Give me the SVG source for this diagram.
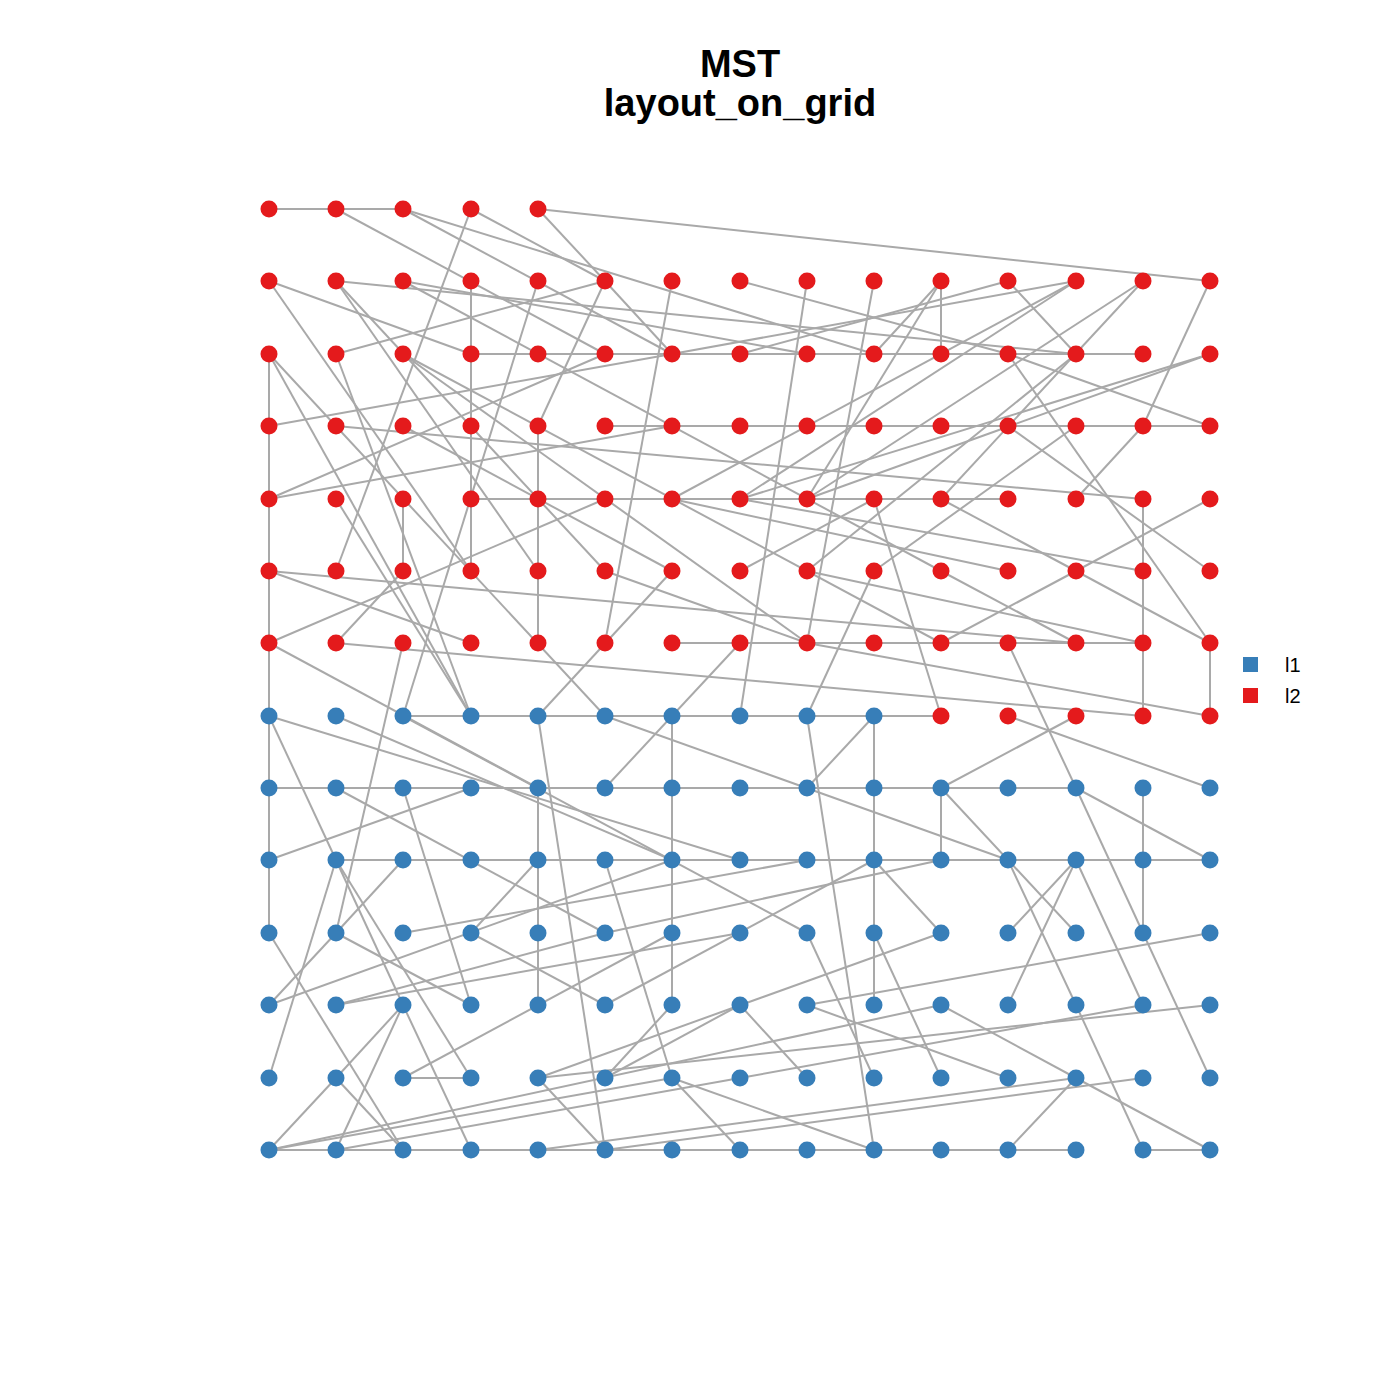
<svg xmlns="http://www.w3.org/2000/svg" width="1400" height="1400" viewBox="0 0 1400 1400">
<style>
.e line{stroke:#A9A9A9;stroke-width:2}
.r{fill:#E41A1C}
.b{fill:#377EB8}
.t{font-family:"Liberation Sans",Arial,sans-serif;font-weight:bold;font-size:38px;text-anchor:middle}
.l{font-family:"Liberation Sans",Arial,sans-serif;font-size:20px}
</style>
<rect width="1400" height="1400" fill="#fff"/>
<text class="t" x="740" y="77">MST</text>
<text class="t" x="740" y="116">layout_on_grid</text>
<g id="connectors" class="e">
<line x1="269" y1="209" x2="403" y2="209"/>
<line x1="471" y1="354" x2="1143" y2="354"/>
<line x1="605" y1="426" x2="1210" y2="426"/>
<line x1="471" y1="499" x2="1008" y2="499"/>
<line x1="672" y1="643" x2="1143" y2="643"/>
<line x1="403" y1="716" x2="941" y2="716"/>
<line x1="269" y1="788" x2="1076" y2="788"/>
<line x1="336" y1="860" x2="1210" y2="860"/>
<line x1="269" y1="1150" x2="1076" y2="1150"/>
<line x1="1143" y1="1150" x2="1210" y2="1150"/>
<line x1="269" y1="354" x2="269" y2="933"/>
<line x1="403" y1="499" x2="403" y2="571"/>
<line x1="471" y1="281" x2="471" y2="571"/>
<line x1="538" y1="426" x2="538" y2="643"/>
<line x1="538" y1="788" x2="538" y2="1005"/>
<line x1="672" y1="716" x2="672" y2="1005"/>
<line x1="874" y1="716" x2="874" y2="1005"/>
<line x1="941" y1="281" x2="941" y2="354"/>
<line x1="941" y1="788" x2="941" y2="860"/>
<line x1="1143" y1="499" x2="1143" y2="716"/>
<line x1="1143" y1="788" x2="1143" y2="933"/>
<line x1="1210" y1="643" x2="1210" y2="716"/>
<line x1="471" y1="209" x2="336" y2="571"/>
<line x1="538" y1="209" x2="605" y2="281"/>
<line x1="471" y1="209" x2="605" y2="281"/>
<line x1="538" y1="209" x2="1210" y2="281"/>
<line x1="336" y1="209" x2="605" y2="354"/>
<line x1="403" y1="209" x2="672" y2="354"/>
<line x1="403" y1="209" x2="874" y2="354"/>
<line x1="269" y1="281" x2="471" y2="354"/>
<line x1="269" y1="281" x2="471" y2="571"/>
<line x1="336" y1="354" x2="605" y2="281"/>
<line x1="269" y1="571" x2="1076" y2="643"/>
<line x1="269" y1="426" x2="672" y2="354"/>
<line x1="336" y1="426" x2="1143" y2="499"/>
<line x1="538" y1="716" x2="605" y2="1150"/>
<line x1="1076" y1="499" x2="1143" y2="426"/>
<line x1="1008" y1="281" x2="1076" y2="354"/>
<line x1="1210" y1="281" x2="1143" y2="426"/>
<line x1="1008" y1="354" x2="1210" y2="426"/>
<line x1="1008" y1="354" x2="1210" y2="643"/>
<line x1="1210" y1="499" x2="1076" y2="571"/>
<line x1="1076" y1="571" x2="1210" y2="643"/>
<line x1="1008" y1="643" x2="1076" y2="788"/>
<line x1="1008" y1="716" x2="1210" y2="788"/>
<line x1="1076" y1="788" x2="1210" y2="860"/>
<line x1="1076" y1="788" x2="1143" y2="933"/>
<line x1="1008" y1="860" x2="1076" y2="1005"/>
<line x1="1076" y1="860" x2="1008" y2="933"/>
<line x1="1076" y1="860" x2="1008" y2="1005"/>
<line x1="1076" y1="860" x2="1143" y2="1005"/>
<line x1="1143" y1="933" x2="1210" y2="1078"/>
<line x1="1076" y1="1005" x2="1143" y2="1150"/>
<line x1="1076" y1="1078" x2="1008" y2="1150"/>
<line x1="1076" y1="1078" x2="1210" y2="1150"/>
<line x1="538" y1="1150" x2="1076" y2="1078"/>
<line x1="807" y1="933" x2="874" y2="1078"/>
<line x1="874" y1="933" x2="941" y2="1078"/>
<line x1="807" y1="716" x2="874" y2="1150"/>
<line x1="605" y1="860" x2="672" y2="1078"/>
<line x1="538" y1="1078" x2="605" y2="1150"/>
<line x1="672" y1="1078" x2="740" y2="1150"/>
<line x1="269" y1="860" x2="471" y2="788"/>
<line x1="269" y1="933" x2="403" y2="1150"/>
<line x1="336" y1="860" x2="269" y2="1078"/>
<line x1="336" y1="860" x2="403" y2="1005"/>
<line x1="336" y1="860" x2="471" y2="1078"/>
<line x1="269" y1="1005" x2="336" y2="933"/>
<line x1="403" y1="1005" x2="336" y2="1078"/>
<line x1="403" y1="1005" x2="336" y2="1150"/>
<line x1="403" y1="1005" x2="471" y2="1150"/>
<line x1="336" y1="1078" x2="269" y2="1150"/>
<line x1="403" y1="860" x2="336" y2="933"/>
<line x1="269" y1="571" x2="471" y2="643"/>
<line x1="336" y1="643" x2="403" y2="571"/>
<line x1="336" y1="643" x2="1143" y2="716"/>
<line x1="403" y1="643" x2="336" y2="933"/>
<line x1="269" y1="716" x2="336" y2="860"/>
<line x1="336" y1="354" x2="471" y2="716"/>
<line x1="403" y1="788" x2="471" y2="1005"/>
<line x1="672" y1="281" x2="605" y2="643"/>
<line x1="672" y1="571" x2="538" y2="716"/>
<line x1="605" y1="788" x2="740" y2="643"/>
<line x1="874" y1="281" x2="807" y2="643"/>
<line x1="672" y1="354" x2="1076" y2="281"/>
<line x1="740" y1="354" x2="1008" y2="281"/>
<line x1="941" y1="281" x2="807" y2="499"/>
<line x1="941" y1="281" x2="874" y2="354"/>
<line x1="471" y1="933" x2="538" y2="860"/>
<line x1="336" y1="1078" x2="403" y2="1150"/>
<line x1="269" y1="716" x2="740" y2="860"/>
<line x1="336" y1="281" x2="1076" y2="354"/>
<line x1="336" y1="281" x2="538" y2="571"/>
<line x1="336" y1="281" x2="605" y2="571"/>
<line x1="403" y1="281" x2="807" y2="354"/>
<line x1="403" y1="281" x2="941" y2="571"/>
<line x1="538" y1="281" x2="403" y2="716"/>
<line x1="605" y1="281" x2="538" y2="426"/>
<line x1="605" y1="281" x2="672" y2="354"/>
<line x1="740" y1="281" x2="1008" y2="354"/>
<line x1="807" y1="281" x2="740" y2="716"/>
<line x1="1076" y1="281" x2="740" y2="499"/>
<line x1="1076" y1="281" x2="672" y2="499"/>
<line x1="1143" y1="281" x2="807" y2="499"/>
<line x1="1143" y1="281" x2="941" y2="499"/>
<line x1="269" y1="354" x2="471" y2="716"/>
<line x1="269" y1="354" x2="605" y2="716"/>
<line x1="403" y1="354" x2="941" y2="643"/>
<line x1="403" y1="354" x2="807" y2="643"/>
<line x1="1210" y1="354" x2="807" y2="499"/>
<line x1="1210" y1="354" x2="740" y2="499"/>
<line x1="403" y1="426" x2="672" y2="571"/>
<line x1="269" y1="499" x2="605" y2="354"/>
<line x1="269" y1="499" x2="672" y2="426"/>
<line x1="336" y1="499" x2="471" y2="716"/>
<line x1="605" y1="571" x2="807" y2="643"/>
<line x1="740" y1="571" x2="874" y2="499"/>
<line x1="740" y1="499" x2="1143" y2="571"/>
<line x1="941" y1="499" x2="1076" y2="571"/>
<line x1="1076" y1="571" x2="941" y2="643"/>
<line x1="874" y1="499" x2="941" y2="716"/>
<line x1="807" y1="571" x2="1076" y2="354"/>
<line x1="807" y1="571" x2="1143" y2="643"/>
<line x1="874" y1="571" x2="1076" y2="426"/>
<line x1="874" y1="571" x2="807" y2="716"/>
<line x1="941" y1="571" x2="1076" y2="643"/>
<line x1="1008" y1="571" x2="672" y2="499"/>
<line x1="1210" y1="571" x2="1008" y2="426"/>
<line x1="1076" y1="716" x2="941" y2="788"/>
<line x1="874" y1="716" x2="807" y2="788"/>
<line x1="605" y1="716" x2="1008" y2="860"/>
<line x1="403" y1="716" x2="807" y2="933"/>
<line x1="336" y1="716" x2="672" y2="860"/>
<line x1="1210" y1="716" x2="807" y2="643"/>
<line x1="403" y1="933" x2="807" y2="860"/>
<line x1="336" y1="788" x2="605" y2="933"/>
<line x1="605" y1="933" x2="941" y2="860"/>
<line x1="336" y1="1005" x2="605" y2="933"/>
<line x1="269" y1="1005" x2="672" y2="860"/>
<line x1="336" y1="933" x2="471" y2="1005"/>
<line x1="471" y1="933" x2="605" y2="1005"/>
<line x1="941" y1="933" x2="874" y2="860"/>
<line x1="1076" y1="933" x2="941" y2="788"/>
<line x1="336" y1="1005" x2="740" y2="933"/>
<line x1="605" y1="1005" x2="874" y2="860"/>
<line x1="740" y1="1005" x2="605" y2="1078"/>
<line x1="807" y1="1005" x2="1210" y2="933"/>
<line x1="941" y1="1005" x2="1076" y2="1078"/>
<line x1="1210" y1="1005" x2="538" y2="1078"/>
<line x1="538" y1="1078" x2="941" y2="933"/>
<line x1="403" y1="1078" x2="471" y2="1078"/>
<line x1="403" y1="1078" x2="672" y2="933"/>
<line x1="605" y1="1078" x2="672" y2="1005"/>
<line x1="740" y1="1078" x2="1143" y2="1005"/>
<line x1="807" y1="1078" x2="740" y2="1005"/>
<line x1="1008" y1="1078" x2="807" y2="1005"/>
<line x1="1143" y1="1078" x2="605" y2="1150"/>
<line x1="672" y1="1078" x2="874" y2="1150"/>
<line x1="269" y1="643" x2="605" y2="499"/>
<line x1="269" y1="643" x2="538" y2="788"/>
<line x1="269" y1="1150" x2="941" y2="1005"/>
<line x1="269" y1="1150" x2="672" y2="1078"/>
<line x1="336" y1="1150" x2="740" y2="1078"/>
</g>
<g id="nodes">
<g id="n0_0" class="r"><circle cx="269" cy="209" r="8.5"/></g>
<g id="n1_0" class="r"><circle cx="336" cy="209" r="8.5"/></g>
<g id="n2_0" class="r"><circle cx="403" cy="209" r="8.5"/></g>
<g id="n3_0" class="r"><circle cx="471" cy="209" r="8.5"/></g>
<g id="n4_0" class="r"><circle cx="538" cy="209" r="8.5"/></g>
<g id="n0_1" class="r"><circle cx="269" cy="281" r="8.5"/></g>
<g id="n1_1" class="r"><circle cx="336" cy="281" r="8.5"/></g>
<g id="n2_1" class="r"><circle cx="403" cy="281" r="8.5"/></g>
<g id="n3_1" class="r"><circle cx="471" cy="281" r="8.5"/></g>
<g id="n4_1" class="r"><circle cx="538" cy="281" r="8.5"/></g>
<g id="n5_1" class="r"><circle cx="605" cy="281" r="8.5"/></g>
<g id="n6_1" class="r"><circle cx="672" cy="281" r="8.5"/></g>
<g id="n7_1" class="r"><circle cx="740" cy="281" r="8.5"/></g>
<g id="n8_1" class="r"><circle cx="807" cy="281" r="8.5"/></g>
<g id="n9_1" class="r"><circle cx="874" cy="281" r="8.5"/></g>
<g id="n10_1" class="r"><circle cx="941" cy="281" r="8.5"/></g>
<g id="n11_1" class="r"><circle cx="1008" cy="281" r="8.5"/></g>
<g id="n12_1" class="r"><circle cx="1076" cy="281" r="8.5"/></g>
<g id="n13_1" class="r"><circle cx="1143" cy="281" r="8.5"/></g>
<g id="n14_1" class="r"><circle cx="1210" cy="281" r="8.5"/></g>
<g id="n0_2" class="r"><circle cx="269" cy="354" r="8.5"/></g>
<g id="n1_2" class="r"><circle cx="336" cy="354" r="8.5"/></g>
<g id="n2_2" class="r"><circle cx="403" cy="354" r="8.5"/></g>
<g id="n3_2" class="r"><circle cx="471" cy="354" r="8.5"/></g>
<g id="n4_2" class="r"><circle cx="538" cy="354" r="8.5"/></g>
<g id="n5_2" class="r"><circle cx="605" cy="354" r="8.5"/></g>
<g id="n6_2" class="r"><circle cx="672" cy="354" r="8.5"/></g>
<g id="n7_2" class="r"><circle cx="740" cy="354" r="8.5"/></g>
<g id="n8_2" class="r"><circle cx="807" cy="354" r="8.5"/></g>
<g id="n9_2" class="r"><circle cx="874" cy="354" r="8.5"/></g>
<g id="n10_2" class="r"><circle cx="941" cy="354" r="8.5"/></g>
<g id="n11_2" class="r"><circle cx="1008" cy="354" r="8.5"/></g>
<g id="n12_2" class="r"><circle cx="1076" cy="354" r="8.5"/></g>
<g id="n13_2" class="r"><circle cx="1143" cy="354" r="8.5"/></g>
<g id="n14_2" class="r"><circle cx="1210" cy="354" r="8.5"/></g>
<g id="n0_3" class="r"><circle cx="269" cy="426" r="8.5"/></g>
<g id="n1_3" class="r"><circle cx="336" cy="426" r="8.5"/></g>
<g id="n2_3" class="r"><circle cx="403" cy="426" r="8.5"/></g>
<g id="n3_3" class="r"><circle cx="471" cy="426" r="8.5"/></g>
<g id="n4_3" class="r"><circle cx="538" cy="426" r="8.5"/></g>
<g id="n5_3" class="r"><circle cx="605" cy="426" r="8.5"/></g>
<g id="n6_3" class="r"><circle cx="672" cy="426" r="8.5"/></g>
<g id="n7_3" class="r"><circle cx="740" cy="426" r="8.5"/></g>
<g id="n8_3" class="r"><circle cx="807" cy="426" r="8.5"/></g>
<g id="n9_3" class="r"><circle cx="874" cy="426" r="8.5"/></g>
<g id="n10_3" class="r"><circle cx="941" cy="426" r="8.5"/></g>
<g id="n11_3" class="r"><circle cx="1008" cy="426" r="8.5"/></g>
<g id="n12_3" class="r"><circle cx="1076" cy="426" r="8.5"/></g>
<g id="n13_3" class="r"><circle cx="1143" cy="426" r="8.5"/></g>
<g id="n14_3" class="r"><circle cx="1210" cy="426" r="8.5"/></g>
<g id="n0_4" class="r"><circle cx="269" cy="499" r="8.5"/></g>
<g id="n1_4" class="r"><circle cx="336" cy="499" r="8.5"/></g>
<g id="n2_4" class="r"><circle cx="403" cy="499" r="8.5"/></g>
<g id="n3_4" class="r"><circle cx="471" cy="499" r="8.5"/></g>
<g id="n4_4" class="r"><circle cx="538" cy="499" r="8.5"/></g>
<g id="n5_4" class="r"><circle cx="605" cy="499" r="8.5"/></g>
<g id="n6_4" class="r"><circle cx="672" cy="499" r="8.5"/></g>
<g id="n7_4" class="r"><circle cx="740" cy="499" r="8.5"/></g>
<g id="n8_4" class="r"><circle cx="807" cy="499" r="8.5"/></g>
<g id="n9_4" class="r"><circle cx="874" cy="499" r="8.5"/></g>
<g id="n10_4" class="r"><circle cx="941" cy="499" r="8.5"/></g>
<g id="n11_4" class="r"><circle cx="1008" cy="499" r="8.5"/></g>
<g id="n12_4" class="r"><circle cx="1076" cy="499" r="8.5"/></g>
<g id="n13_4" class="r"><circle cx="1143" cy="499" r="8.5"/></g>
<g id="n14_4" class="r"><circle cx="1210" cy="499" r="8.5"/></g>
<g id="n0_5" class="r"><circle cx="269" cy="571" r="8.5"/></g>
<g id="n1_5" class="r"><circle cx="336" cy="571" r="8.5"/></g>
<g id="n2_5" class="r"><circle cx="403" cy="571" r="8.5"/></g>
<g id="n3_5" class="r"><circle cx="471" cy="571" r="8.5"/></g>
<g id="n4_5" class="r"><circle cx="538" cy="571" r="8.5"/></g>
<g id="n5_5" class="r"><circle cx="605" cy="571" r="8.5"/></g>
<g id="n6_5" class="r"><circle cx="672" cy="571" r="8.5"/></g>
<g id="n7_5" class="r"><circle cx="740" cy="571" r="8.5"/></g>
<g id="n8_5" class="r"><circle cx="807" cy="571" r="8.5"/></g>
<g id="n9_5" class="r"><circle cx="874" cy="571" r="8.5"/></g>
<g id="n10_5" class="r"><circle cx="941" cy="571" r="8.5"/></g>
<g id="n11_5" class="r"><circle cx="1008" cy="571" r="8.5"/></g>
<g id="n12_5" class="r"><circle cx="1076" cy="571" r="8.5"/></g>
<g id="n13_5" class="r"><circle cx="1143" cy="571" r="8.5"/></g>
<g id="n14_5" class="r"><circle cx="1210" cy="571" r="8.5"/></g>
<g id="n0_6" class="r"><circle cx="269" cy="643" r="8.5"/></g>
<g id="n1_6" class="r"><circle cx="336" cy="643" r="8.5"/></g>
<g id="n2_6" class="r"><circle cx="403" cy="643" r="8.5"/></g>
<g id="n3_6" class="r"><circle cx="471" cy="643" r="8.5"/></g>
<g id="n4_6" class="r"><circle cx="538" cy="643" r="8.5"/></g>
<g id="n5_6" class="r"><circle cx="605" cy="643" r="8.5"/></g>
<g id="n6_6" class="r"><circle cx="672" cy="643" r="8.5"/></g>
<g id="n7_6" class="r"><circle cx="740" cy="643" r="8.5"/></g>
<g id="n8_6" class="r"><circle cx="807" cy="643" r="8.5"/></g>
<g id="n9_6" class="r"><circle cx="874" cy="643" r="8.5"/></g>
<g id="n10_6" class="r"><circle cx="941" cy="643" r="8.5"/></g>
<g id="n11_6" class="r"><circle cx="1008" cy="643" r="8.5"/></g>
<g id="n12_6" class="r"><circle cx="1076" cy="643" r="8.5"/></g>
<g id="n13_6" class="r"><circle cx="1143" cy="643" r="8.5"/></g>
<g id="n14_6" class="r"><circle cx="1210" cy="643" r="8.5"/></g>
<g id="n0_7" class="b"><circle cx="269" cy="716" r="8.5"/></g>
<g id="n1_7" class="b"><circle cx="336" cy="716" r="8.5"/></g>
<g id="n2_7" class="b"><circle cx="403" cy="716" r="8.5"/></g>
<g id="n3_7" class="b"><circle cx="471" cy="716" r="8.5"/></g>
<g id="n4_7" class="b"><circle cx="538" cy="716" r="8.5"/></g>
<g id="n5_7" class="b"><circle cx="605" cy="716" r="8.5"/></g>
<g id="n6_7" class="b"><circle cx="672" cy="716" r="8.5"/></g>
<g id="n7_7" class="b"><circle cx="740" cy="716" r="8.5"/></g>
<g id="n8_7" class="b"><circle cx="807" cy="716" r="8.5"/></g>
<g id="n9_7" class="b"><circle cx="874" cy="716" r="8.5"/></g>
<g id="n10_7" class="r"><circle cx="941" cy="716" r="8.5"/></g>
<g id="n11_7" class="r"><circle cx="1008" cy="716" r="8.5"/></g>
<g id="n12_7" class="r"><circle cx="1076" cy="716" r="8.5"/></g>
<g id="n13_7" class="r"><circle cx="1143" cy="716" r="8.5"/></g>
<g id="n14_7" class="r"><circle cx="1210" cy="716" r="8.5"/></g>
<g id="n0_8" class="b"><circle cx="269" cy="788" r="8.5"/></g>
<g id="n1_8" class="b"><circle cx="336" cy="788" r="8.5"/></g>
<g id="n2_8" class="b"><circle cx="403" cy="788" r="8.5"/></g>
<g id="n3_8" class="b"><circle cx="471" cy="788" r="8.5"/></g>
<g id="n4_8" class="b"><circle cx="538" cy="788" r="8.5"/></g>
<g id="n5_8" class="b"><circle cx="605" cy="788" r="8.5"/></g>
<g id="n6_8" class="b"><circle cx="672" cy="788" r="8.5"/></g>
<g id="n7_8" class="b"><circle cx="740" cy="788" r="8.5"/></g>
<g id="n8_8" class="b"><circle cx="807" cy="788" r="8.5"/></g>
<g id="n9_8" class="b"><circle cx="874" cy="788" r="8.5"/></g>
<g id="n10_8" class="b"><circle cx="941" cy="788" r="8.5"/></g>
<g id="n11_8" class="b"><circle cx="1008" cy="788" r="8.5"/></g>
<g id="n12_8" class="b"><circle cx="1076" cy="788" r="8.5"/></g>
<g id="n13_8" class="b"><circle cx="1143" cy="788" r="8.5"/></g>
<g id="n14_8" class="b"><circle cx="1210" cy="788" r="8.5"/></g>
<g id="n0_9" class="b"><circle cx="269" cy="860" r="8.5"/></g>
<g id="n1_9" class="b"><circle cx="336" cy="860" r="8.5"/></g>
<g id="n2_9" class="b"><circle cx="403" cy="860" r="8.5"/></g>
<g id="n3_9" class="b"><circle cx="471" cy="860" r="8.5"/></g>
<g id="n4_9" class="b"><circle cx="538" cy="860" r="8.5"/></g>
<g id="n5_9" class="b"><circle cx="605" cy="860" r="8.5"/></g>
<g id="n6_9" class="b"><circle cx="672" cy="860" r="8.5"/></g>
<g id="n7_9" class="b"><circle cx="740" cy="860" r="8.5"/></g>
<g id="n8_9" class="b"><circle cx="807" cy="860" r="8.5"/></g>
<g id="n9_9" class="b"><circle cx="874" cy="860" r="8.5"/></g>
<g id="n10_9" class="b"><circle cx="941" cy="860" r="8.5"/></g>
<g id="n11_9" class="b"><circle cx="1008" cy="860" r="8.5"/></g>
<g id="n12_9" class="b"><circle cx="1076" cy="860" r="8.5"/></g>
<g id="n13_9" class="b"><circle cx="1143" cy="860" r="8.5"/></g>
<g id="n14_9" class="b"><circle cx="1210" cy="860" r="8.5"/></g>
<g id="n0_10" class="b"><circle cx="269" cy="933" r="8.5"/></g>
<g id="n1_10" class="b"><circle cx="336" cy="933" r="8.5"/></g>
<g id="n2_10" class="b"><circle cx="403" cy="933" r="8.5"/></g>
<g id="n3_10" class="b"><circle cx="471" cy="933" r="8.5"/></g>
<g id="n4_10" class="b"><circle cx="538" cy="933" r="8.5"/></g>
<g id="n5_10" class="b"><circle cx="605" cy="933" r="8.5"/></g>
<g id="n6_10" class="b"><circle cx="672" cy="933" r="8.5"/></g>
<g id="n7_10" class="b"><circle cx="740" cy="933" r="8.5"/></g>
<g id="n8_10" class="b"><circle cx="807" cy="933" r="8.5"/></g>
<g id="n9_10" class="b"><circle cx="874" cy="933" r="8.5"/></g>
<g id="n10_10" class="b"><circle cx="941" cy="933" r="8.5"/></g>
<g id="n11_10" class="b"><circle cx="1008" cy="933" r="8.5"/></g>
<g id="n12_10" class="b"><circle cx="1076" cy="933" r="8.5"/></g>
<g id="n13_10" class="b"><circle cx="1143" cy="933" r="8.5"/></g>
<g id="n14_10" class="b"><circle cx="1210" cy="933" r="8.5"/></g>
<g id="n0_11" class="b"><circle cx="269" cy="1005" r="8.5"/></g>
<g id="n1_11" class="b"><circle cx="336" cy="1005" r="8.5"/></g>
<g id="n2_11" class="b"><circle cx="403" cy="1005" r="8.5"/></g>
<g id="n3_11" class="b"><circle cx="471" cy="1005" r="8.5"/></g>
<g id="n4_11" class="b"><circle cx="538" cy="1005" r="8.5"/></g>
<g id="n5_11" class="b"><circle cx="605" cy="1005" r="8.5"/></g>
<g id="n6_11" class="b"><circle cx="672" cy="1005" r="8.5"/></g>
<g id="n7_11" class="b"><circle cx="740" cy="1005" r="8.5"/></g>
<g id="n8_11" class="b"><circle cx="807" cy="1005" r="8.5"/></g>
<g id="n9_11" class="b"><circle cx="874" cy="1005" r="8.5"/></g>
<g id="n10_11" class="b"><circle cx="941" cy="1005" r="8.5"/></g>
<g id="n11_11" class="b"><circle cx="1008" cy="1005" r="8.5"/></g>
<g id="n12_11" class="b"><circle cx="1076" cy="1005" r="8.5"/></g>
<g id="n13_11" class="b"><circle cx="1143" cy="1005" r="8.5"/></g>
<g id="n14_11" class="b"><circle cx="1210" cy="1005" r="8.5"/></g>
<g id="n0_12" class="b"><circle cx="269" cy="1078" r="8.5"/></g>
<g id="n1_12" class="b"><circle cx="336" cy="1078" r="8.5"/></g>
<g id="n2_12" class="b"><circle cx="403" cy="1078" r="8.5"/></g>
<g id="n3_12" class="b"><circle cx="471" cy="1078" r="8.5"/></g>
<g id="n4_12" class="b"><circle cx="538" cy="1078" r="8.5"/></g>
<g id="n5_12" class="b"><circle cx="605" cy="1078" r="8.5"/></g>
<g id="n6_12" class="b"><circle cx="672" cy="1078" r="8.5"/></g>
<g id="n7_12" class="b"><circle cx="740" cy="1078" r="8.5"/></g>
<g id="n8_12" class="b"><circle cx="807" cy="1078" r="8.5"/></g>
<g id="n9_12" class="b"><circle cx="874" cy="1078" r="8.5"/></g>
<g id="n10_12" class="b"><circle cx="941" cy="1078" r="8.5"/></g>
<g id="n11_12" class="b"><circle cx="1008" cy="1078" r="8.5"/></g>
<g id="n12_12" class="b"><circle cx="1076" cy="1078" r="8.5"/></g>
<g id="n13_12" class="b"><circle cx="1143" cy="1078" r="8.5"/></g>
<g id="n14_12" class="b"><circle cx="1210" cy="1078" r="8.5"/></g>
<g id="n0_13" class="b"><circle cx="269" cy="1150" r="8.5"/></g>
<g id="n1_13" class="b"><circle cx="336" cy="1150" r="8.5"/></g>
<g id="n2_13" class="b"><circle cx="403" cy="1150" r="8.5"/></g>
<g id="n3_13" class="b"><circle cx="471" cy="1150" r="8.5"/></g>
<g id="n4_13" class="b"><circle cx="538" cy="1150" r="8.5"/></g>
<g id="n5_13" class="b"><circle cx="605" cy="1150" r="8.5"/></g>
<g id="n6_13" class="b"><circle cx="672" cy="1150" r="8.5"/></g>
<g id="n7_13" class="b"><circle cx="740" cy="1150" r="8.5"/></g>
<g id="n8_13" class="b"><circle cx="807" cy="1150" r="8.5"/></g>
<g id="n9_13" class="b"><circle cx="874" cy="1150" r="8.5"/></g>
<g id="n10_13" class="b"><circle cx="941" cy="1150" r="8.5"/></g>
<g id="n11_13" class="b"><circle cx="1008" cy="1150" r="8.5"/></g>
<g id="n12_13" class="b"><circle cx="1076" cy="1150" r="8.5"/></g>
<g id="n13_13" class="b"><circle cx="1143" cy="1150" r="8.5"/></g>
<g id="n14_13" class="b"><circle cx="1210" cy="1150" r="8.5"/></g>
</g>
<g id="legend">
<rect x="1243" y="657" width="15" height="15" class="b"/>
<rect x="1243" y="688" width="15" height="15" class="r"/>
<text class="l" x="1285" y="672">l1</text>
<text class="l" x="1285" y="703">l2</text>
</g>
</svg>
